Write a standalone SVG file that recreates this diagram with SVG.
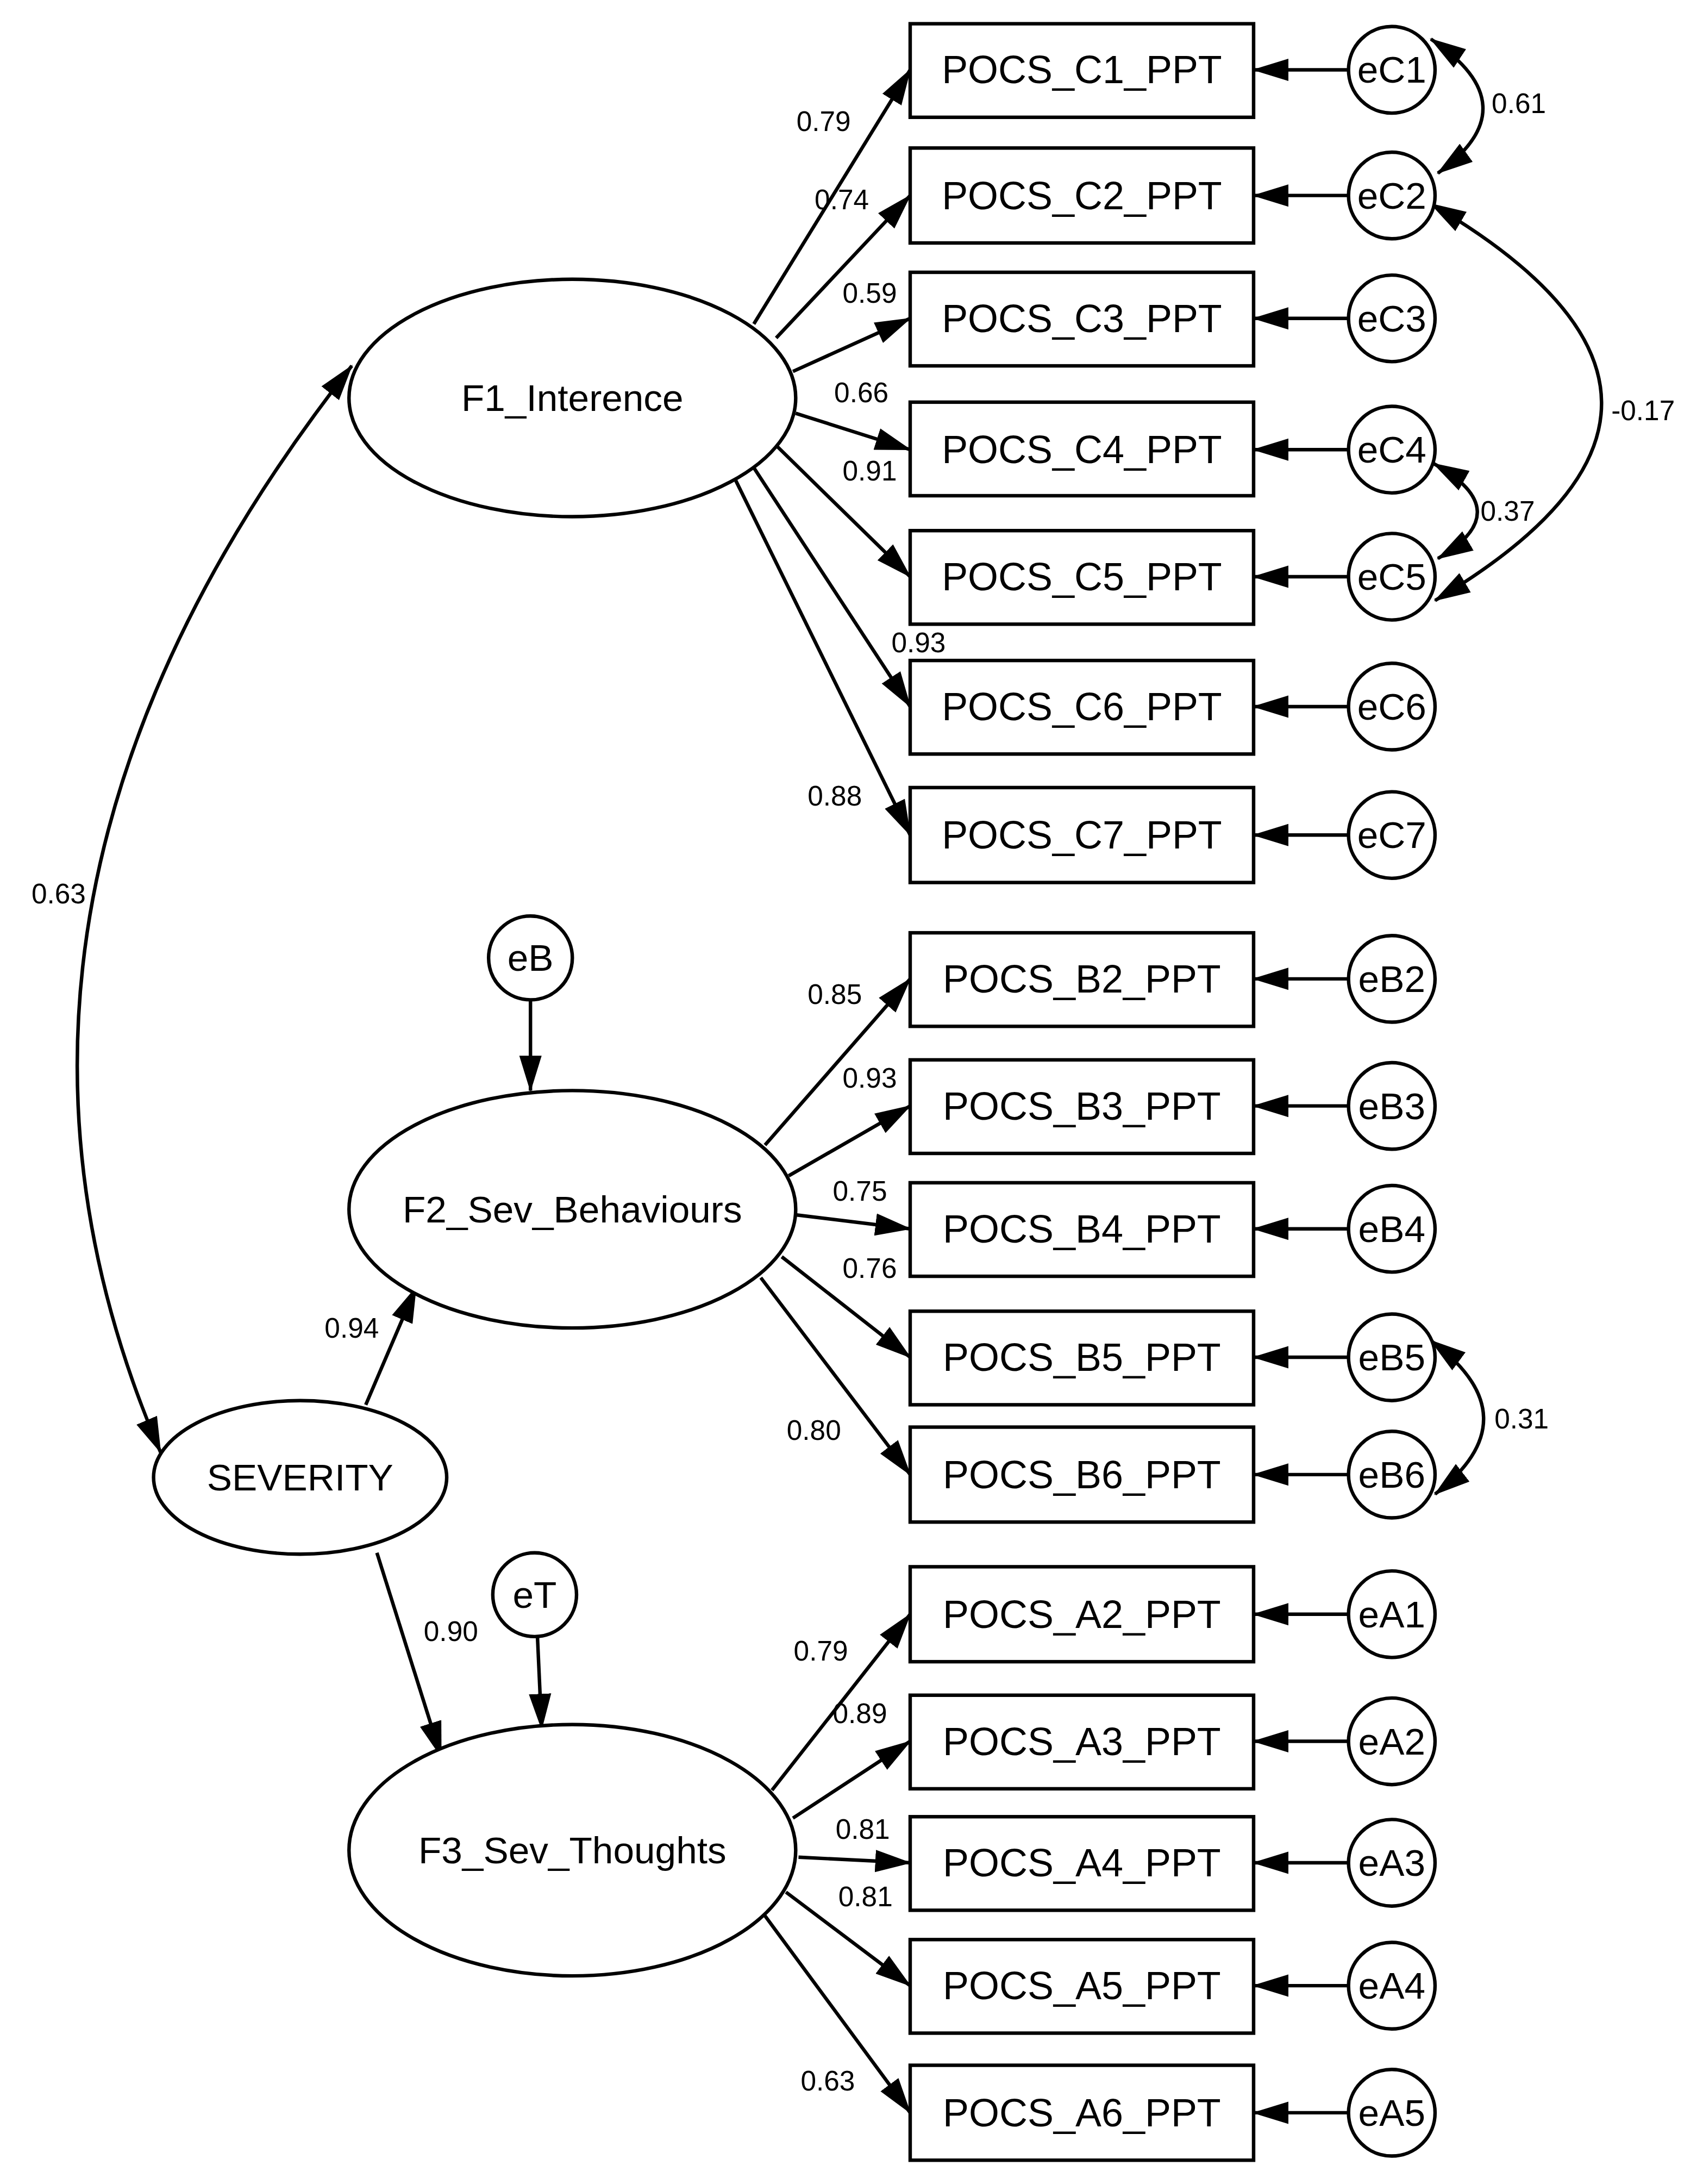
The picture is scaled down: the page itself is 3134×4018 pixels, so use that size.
<svg xmlns="http://www.w3.org/2000/svg" width="3134" height="4018" viewBox="0 0 3134 4018">
<defs>
<marker id="ah" markerUnits="userSpaceOnUse" markerWidth="26" markerHeight="18" refX="25" refY="8" orient="auto-start-reverse" viewBox="0 0 26 16"><path d="M0,0 L26,8 L0,16 Z" fill="#000"/></marker>
<style>
.s{fill:#fff;stroke:#000;stroke-width:2.5}
.c{fill:none;stroke:#000;stroke-width:2.5;marker-end:url(#ah)}
.b{fill:none;stroke:#000;stroke-width:2.5;marker-end:url(#ah);marker-start:url(#ah)}
text{font-family:"Liberation Sans",Arial,sans-serif;text-anchor:middle;dominant-baseline:central;fill:#000}
.t{font-size:28px}.e{font-size:27px}.n{font-size:20px}
</style>
</defs>
<rect width="3134" height="4018" fill="#fff"/>
<g transform="scale(2.569)">
<g id="connectors">
<path class="c" d="M540,232 L652,50"/><path class="c" d="M556,242 L652,140"/><path class="c" d="M568,266 L652,228"/><path class="c" d="M570,296 L652,322"/><path class="c" d="M557,320 L652,413"/><path class="c" d="M540,335 L652,506"/><path class="c" d="M527,344 L652,598"/>
<path class="c" d="M548,820 L652,701"/><path class="c" d="M565,842 L652,792"/><path class="c" d="M570,870 L652,880"/><path class="c" d="M560,900 L652,972"/><path class="c" d="M545,915 L652,1056"/>
<path class="c" d="M553,1282 L652,1156"/><path class="c" d="M568,1302 L652,1247"/><path class="c" d="M572,1330 L652,1334"/><path class="c" d="M563,1355 L652,1422"/><path class="c" d="M548,1372 L652,1513"/>
<path class="c" d="M262,1006 L298,922"/><path class="c" d="M270,1112 L316,1258"/><path class="c" d="M380,716 L380,781"/><path class="c" d="M385,1172 L388,1238"/>
<path class="c" d="M966,50 L898,50"/><path class="c" d="M966,140 L898,140"/><path class="c" d="M966,228 L898,228"/><path class="c" d="M966,322 L898,322"/><path class="c" d="M966,413 L898,413"/><path class="c" d="M966,506 L898,506"/><path class="c" d="M966,598 L898,598"/>
<path class="c" d="M966,701 L898,701"/><path class="c" d="M966,792 L898,792"/><path class="c" d="M966,880 L898,880"/><path class="c" d="M966,972 L898,972"/><path class="c" d="M966,1056 L898,1056"/>
<path class="c" d="M966,1156 L898,1156"/><path class="c" d="M966,1247 L898,1247"/><path class="c" d="M966,1334 L898,1334"/><path class="c" d="M966,1422 L898,1422"/><path class="c" d="M966,1513 L898,1513"/>
<path class="b" d="M252,262 Q-53,650 115,1040"/>
<path class="b" d="M1025,28 Q1097,76 1030,124"/>
<path class="b" d="M1027,332 Q1088,366 1030,400"/>
<path class="b" d="M1025,960 Q1099,1015 1028,1070"/>
<path class="b" d="M1025,146 Q1268,288 1028,430"/>
</g>
<g class="n">
<text class="n" x="590" y="87">0.79</text><text class="n" x="603" y="143">0.74</text><text class="n" x="623" y="210">0.59</text><text class="n" x="617" y="281">0.66</text><text class="n" x="623" y="337">0.91</text><text class="n" x="658" y="460">0.93</text><text class="n" x="598" y="570">0.88</text>
<text class="n" x="1088" y="74">0.61</text><text class="n" x="1177" y="294">-0.17</text><text class="n" x="1080" y="366">0.37</text><text class="n" x="42" y="640">0.63</text>
<text class="n" x="598" y="712">0.85</text><text class="n" x="623" y="772">0.93</text><text class="n" x="616" y="853">0.75</text><text class="n" x="623" y="908">0.76</text><text class="n" x="583" y="1024">0.80</text>
<text class="n" x="252" y="951">0.94</text><text class="n" x="1090" y="1016">0.31</text><text class="n" x="323" y="1168">0.90</text>
<text class="n" x="588" y="1182">0.79</text><text class="n" x="616" y="1227">0.89</text><text class="n" x="618" y="1310">0.81</text><text class="n" x="620" y="1358">0.81</text><text class="n" x="593" y="1490">0.63</text>
</g>
<g id="F1"><ellipse class="s" cx="410" cy="285" rx="160" ry="85"/><text class="e" x="410" y="285">F1_Interence</text></g>
<g id="F2"><ellipse class="s" cx="410" cy="866" rx="160" ry="85"/><text class="e" x="410" y="866">F2_Sev_Behaviours</text></g>
<g id="F3"><ellipse class="s" cx="410" cy="1325" rx="160" ry="90"/><text class="e" x="410" y="1325">F3_Sev_Thoughts</text></g>
<g id="SEVERITY"><ellipse class="s" cx="215" cy="1058" rx="105" ry="55"/><text class="e" x="215" y="1058">SEVERITY</text></g>
<g id="eB"><circle class="s" cx="380" cy="686" r="30"/><text class="e" x="380" y="686">eB</text></g>
<g id="eT"><circle class="s" cx="383" cy="1142" r="30"/><text class="e" x="383" y="1142">eT</text></g>
<g id="C1"><rect class="s" x="652" y="17" width="246" height="67"/><text class="t" x="775" y="50">POCS_C1_PPT</text></g>
<g id="C2"><rect class="s" x="652" y="106" width="246" height="68"/><text class="t" x="775" y="140">POCS_C2_PPT</text></g>
<g id="C3"><rect class="s" x="652" y="195" width="246" height="67"/><text class="t" x="775" y="228">POCS_C3_PPT</text></g>
<g id="C4"><rect class="s" x="652" y="288" width="246" height="67"/><text class="t" x="775" y="322">POCS_C4_PPT</text></g>
<g id="C5"><rect class="s" x="652" y="380" width="246" height="67"/><text class="t" x="775" y="413">POCS_C5_PPT</text></g>
<g id="C6"><rect class="s" x="652" y="473" width="246" height="67"/><text class="t" x="775" y="506">POCS_C6_PPT</text></g>
<g id="C7"><rect class="s" x="652" y="564" width="246" height="68"/><text class="t" x="775" y="598">POCS_C7_PPT</text></g>
<g id="B2"><rect class="s" x="652" y="668" width="246" height="67"/><text class="t" x="775" y="701">POCS_B2_PPT</text></g>
<g id="B3"><rect class="s" x="652" y="759" width="246" height="67"/><text class="t" x="775" y="792">POCS_B3_PPT</text></g>
<g id="B4"><rect class="s" x="652" y="847" width="246" height="67"/><text class="t" x="775" y="880">POCS_B4_PPT</text></g>
<g id="B5"><rect class="s" x="652" y="939" width="246" height="67"/><text class="t" x="775" y="972">POCS_B5_PPT</text></g>
<g id="B6"><rect class="s" x="652" y="1022" width="246" height="68"/><text class="t" x="775" y="1056">POCS_B6_PPT</text></g>
<g id="A2"><rect class="s" x="652" y="1122" width="246" height="68"/><text class="t" x="775" y="1156">POCS_A2_PPT</text></g>
<g id="A3"><rect class="s" x="652" y="1214" width="246" height="67"/><text class="t" x="775" y="1247">POCS_A3_PPT</text></g>
<g id="A4"><rect class="s" x="652" y="1301" width="246" height="67"/><text class="t" x="775" y="1334">POCS_A4_PPT</text></g>
<g id="A5"><rect class="s" x="652" y="1389" width="246" height="67"/><text class="t" x="775" y="1422">POCS_A5_PPT</text></g>
<g id="A6"><rect class="s" x="652" y="1479" width="246" height="68"/><text class="t" x="775" y="1513">POCS_A6_PPT</text></g>
<g id="eC1"><circle class="s" cx="997" cy="50" r="31"/><text class="e" x="997" y="50">eC1</text></g>
<g id="eC2"><circle class="s" cx="997" cy="140" r="31"/><text class="e" x="997" y="140">eC2</text></g>
<g id="eC3"><circle class="s" cx="997" cy="228" r="31"/><text class="e" x="997" y="228">eC3</text></g>
<g id="eC4"><circle class="s" cx="997" cy="322" r="31"/><text class="e" x="997" y="322">eC4</text></g>
<g id="eC5"><circle class="s" cx="997" cy="413" r="31"/><text class="e" x="997" y="413">eC5</text></g>
<g id="eC6"><circle class="s" cx="997" cy="506" r="31"/><text class="e" x="997" y="506">eC6</text></g>
<g id="eC7"><circle class="s" cx="997" cy="598" r="31"/><text class="e" x="997" y="598">eC7</text></g>
<g id="eB2"><circle class="s" cx="997" cy="701" r="31"/><text class="e" x="997" y="701">eB2</text></g>
<g id="eB3"><circle class="s" cx="997" cy="792" r="31"/><text class="e" x="997" y="792">eB3</text></g>
<g id="eB4"><circle class="s" cx="997" cy="880" r="31"/><text class="e" x="997" y="880">eB4</text></g>
<g id="eB5"><circle class="s" cx="997" cy="972" r="31"/><text class="e" x="997" y="972">eB5</text></g>
<g id="eB6"><circle class="s" cx="997" cy="1056" r="31"/><text class="e" x="997" y="1056">eB6</text></g>
<g id="eA1"><circle class="s" cx="997" cy="1156" r="31"/><text class="e" x="997" y="1156">eA1</text></g>
<g id="eA2"><circle class="s" cx="997" cy="1247" r="31"/><text class="e" x="997" y="1247">eA2</text></g>
<g id="eA3"><circle class="s" cx="997" cy="1334" r="31"/><text class="e" x="997" y="1334">eA3</text></g>
<g id="eA4"><circle class="s" cx="997" cy="1422" r="31"/><text class="e" x="997" y="1422">eA4</text></g>
<g id="eA5"><circle class="s" cx="997" cy="1513" r="31"/><text class="e" x="997" y="1513">eA5</text></g>
</g>
</svg>
